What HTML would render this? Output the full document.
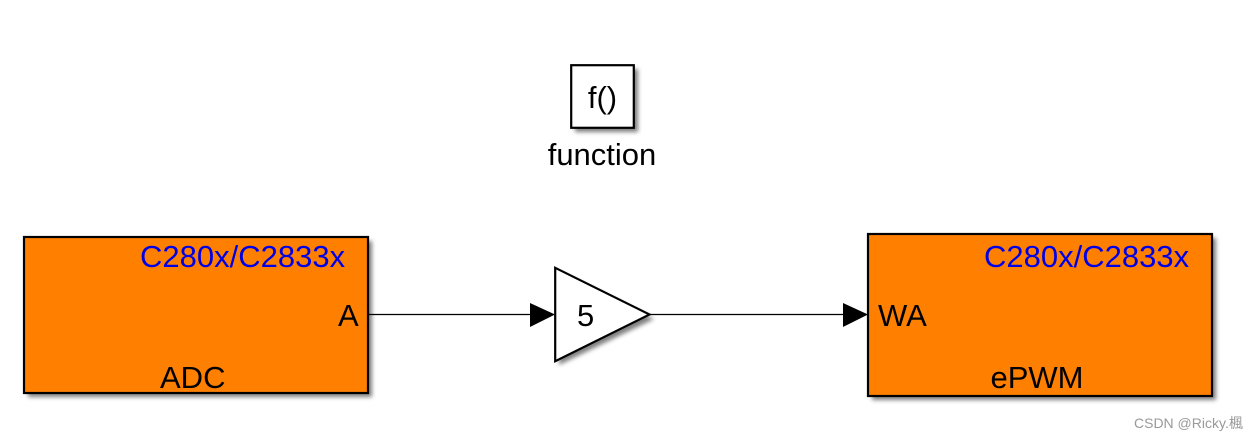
<!DOCTYPE html>
<html>
<head>
<meta charset="utf-8">
<style>
html,body{margin:0;padding:0;background:#fff;width:1258px;height:441px;overflow:hidden}
svg{display:block}
text{font-family:"Liberation Sans","Noto Sans CJK SC",sans-serif;font-size:31px;fill:#000}
.b{fill:#0000e6}
</style>
</head>
<body>
<svg width="1258" height="441" viewBox="0 0 1258 441" xmlns="http://www.w3.org/2000/svg">
<defs>
<filter id="s" x="-10%" y="-10%" width="125%" height="125%">
<feGaussianBlur stdDeviation="2"/>
</filter>
</defs>
<!-- shadows -->
<g fill="#555" filter="url(#s)" opacity="0.75">
<rect x="575" y="69" width="63" height="63"/>
<rect x="28" y="241" width="344" height="156"/>
<rect x="872" y="238" width="344" height="162"/>
<polygon points="559,272 654,319 559,365"/>
</g>
<!-- function block -->
<rect x="571.2" y="65.2" width="62.6" height="62.6" fill="#fff" stroke="#000" stroke-width="2.2"/>
<text x="602.5" y="108" text-anchor="middle">f()</text>
<text x="602" y="165" text-anchor="middle">function</text>
<!-- ADC -->
<rect x="24" y="237" width="344" height="156" fill="#ff7f00" stroke="#000" stroke-width="2.2"/>
<text class="b" x="140" y="267">C280x/C2833x</text>
<text x="338" y="326">A</text>
<text x="160" y="388">ADC</text>
<!-- ePWM -->
<rect x="868" y="234" width="344" height="162" fill="#ff7f00" stroke="#000" stroke-width="2.2"/>
<text class="b" x="984" y="267">C280x/C2833x</text>
<text x="878" y="326">WA</text>
<text x="990.5" y="388">ePWM</text>
<!-- gain -->
<polygon points="555.2,267.8 649.5,314.5 555.2,361.2" fill="#fff" stroke="#000" stroke-width="2.2"/>
<text x="577" y="326">5</text>
<!-- connectors -->
<line x1="368" y1="314.5" x2="532" y2="314.5" stroke="#000" stroke-width="1.2"/>
<polygon points="530,303 555,314.5 530,327" fill="#000"/>
<line x1="650" y1="314.5" x2="845" y2="314.5" stroke="#000" stroke-width="1.2"/>
<polygon points="843,303 868,314.5 843,327" fill="#000"/>
<!-- watermark -->
<text x="1134" y="428" style="font-size:14px;fill:#999">CSDN @Ricky.楓</text>
</svg>
</body>
</html>
